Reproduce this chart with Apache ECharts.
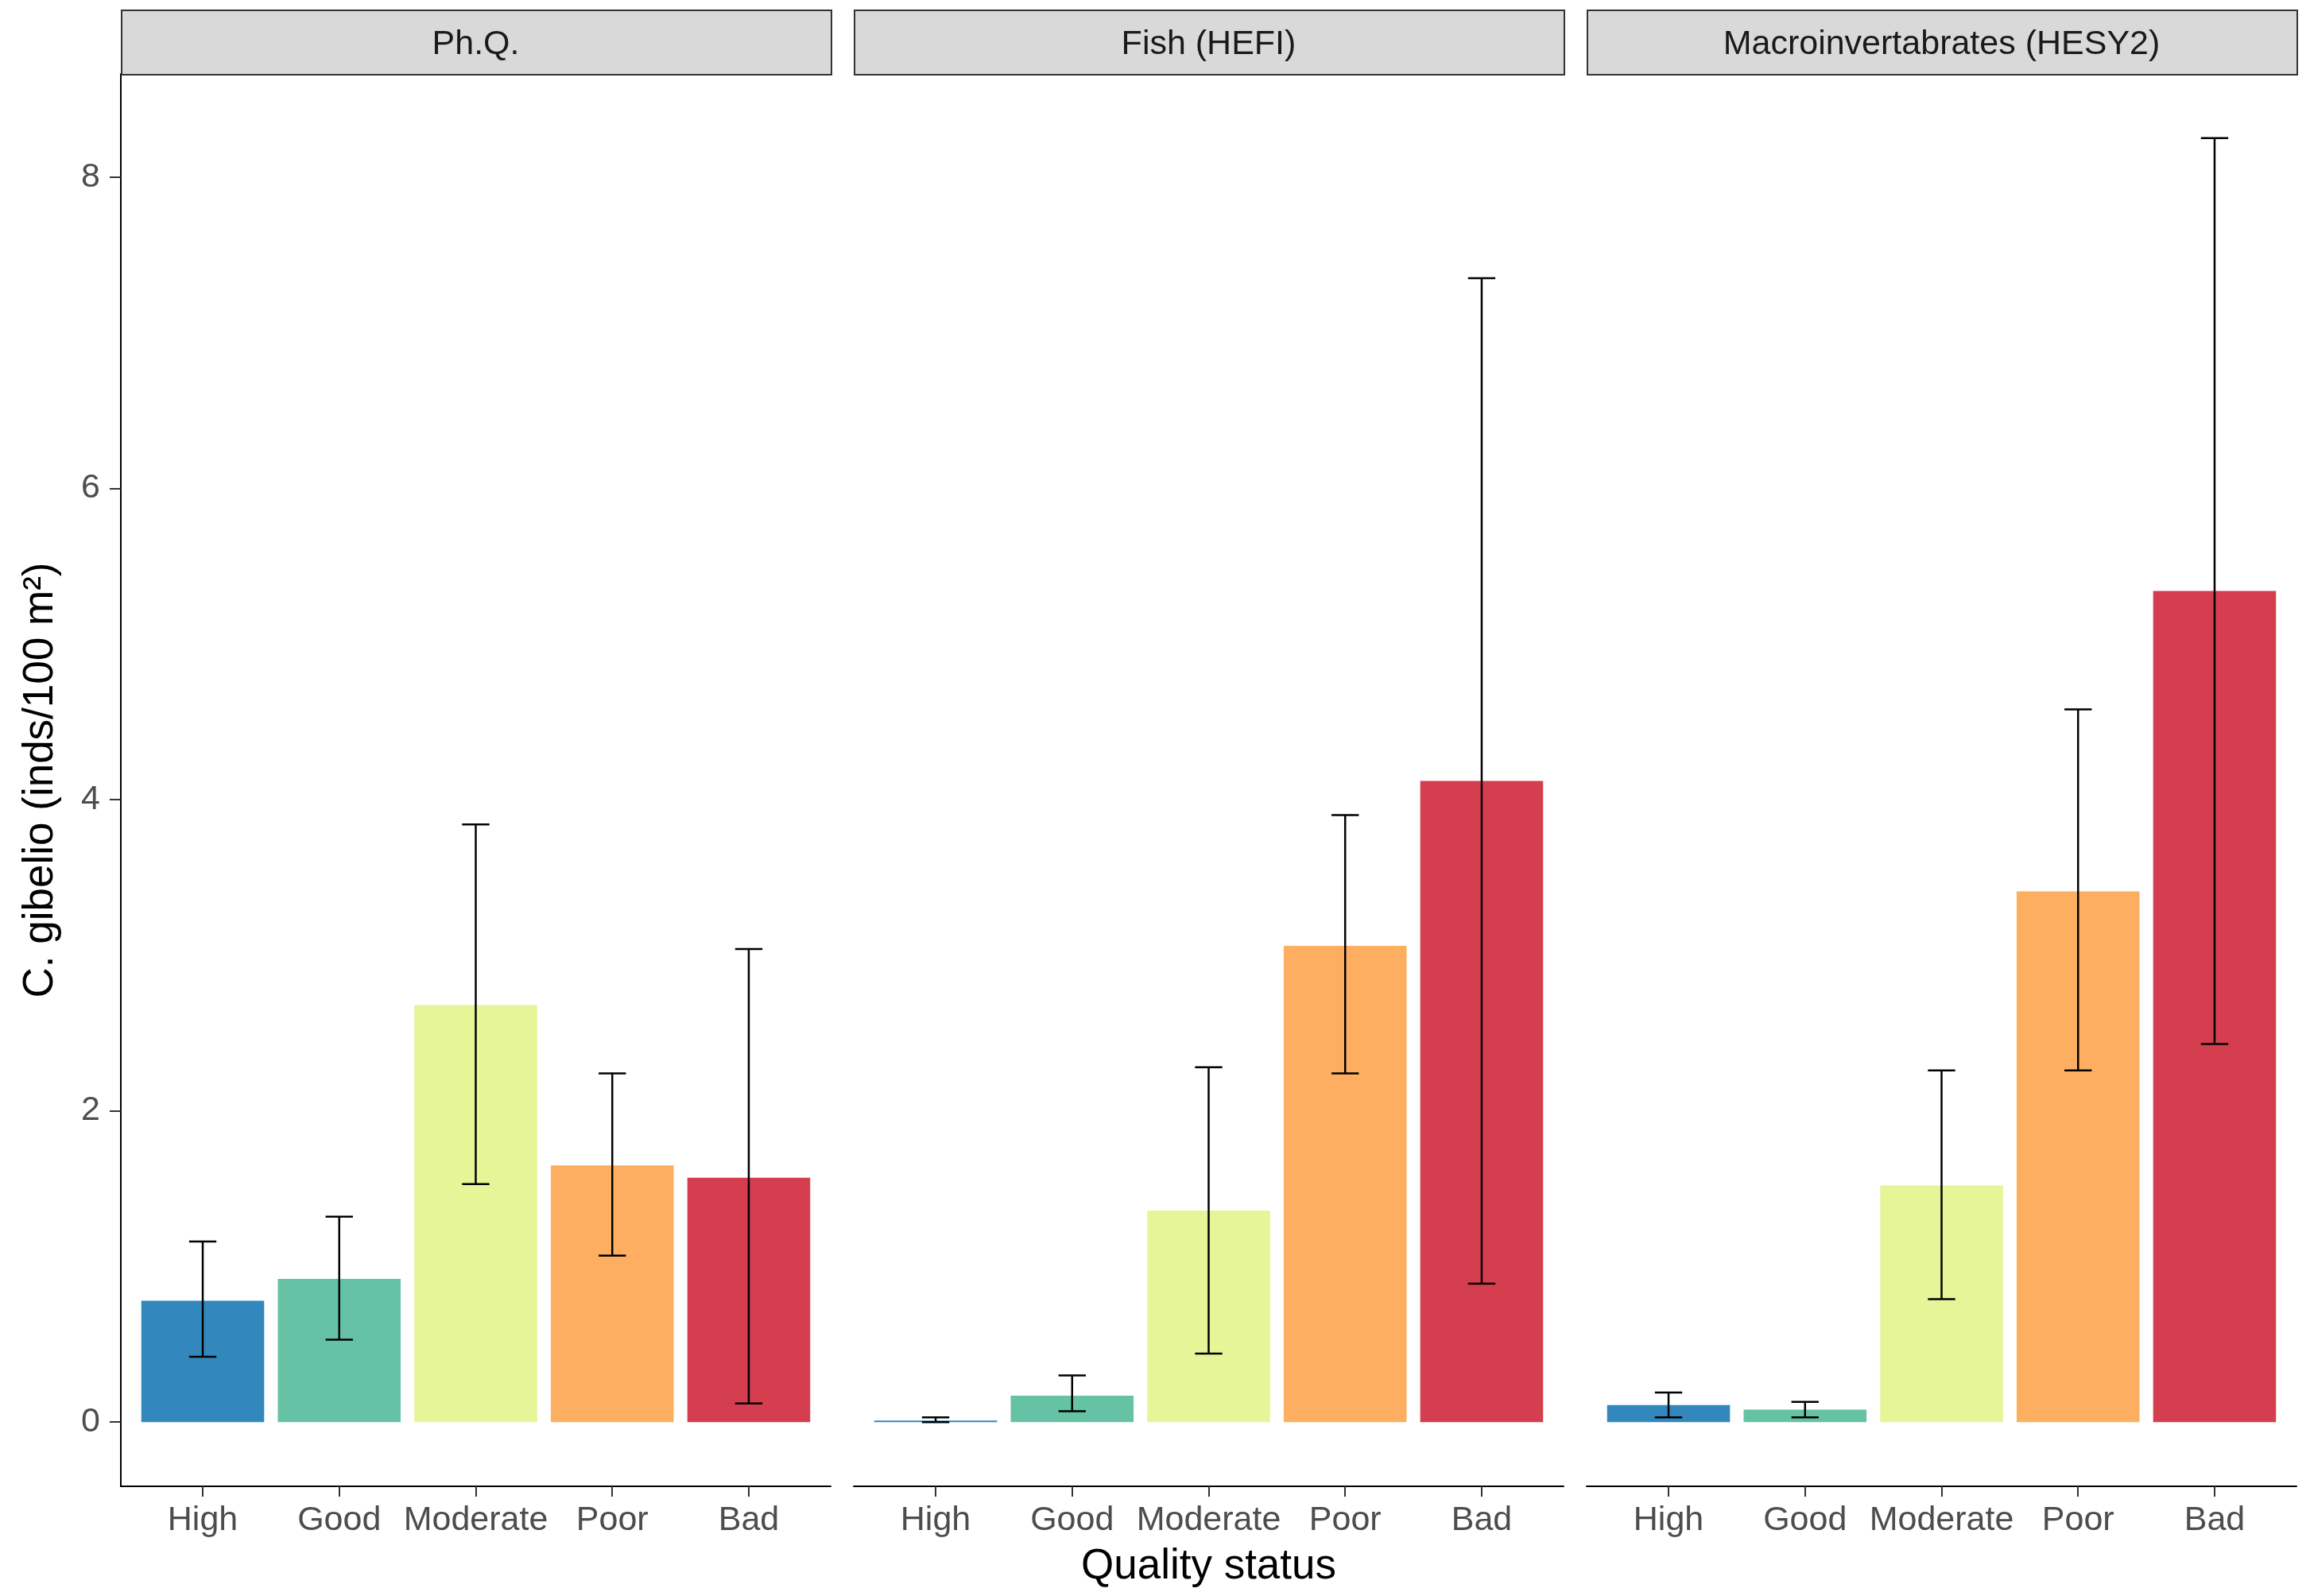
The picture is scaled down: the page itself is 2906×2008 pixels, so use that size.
<!DOCTYPE html>
<html><head><meta charset="utf-8">
<script src="https://cdn.jsdelivr.net/npm/echarts@6/dist/echarts.min.js"></script>
<style>html,body{margin:0;padding:0;background:#fff}#c{width:2906px;height:2008px}</style>
</head><body><div id="c"></div>
<script>
// ---- data ----
const categories = ['High', 'Good', 'Moderate', 'Poor', 'Bad'];
const panelTitles = ['Ph.Q.', 'Fish (HEFI)', 'Macroinvertabrates (HESY2)'];
const phqMean  = [0.78, 0.92, 2.68, 1.65, 1.57];
const phqLow   = [0.42, 0.53, 1.53, 1.07, 0.12];
const phqHigh  = [1.16, 1.32, 3.84, 2.24, 3.04];
const fishMean = [0.01, 0.17, 1.36, 3.06, 4.12];
const fishLow  = [0.00, 0.07, 0.44, 2.24, 0.89];
const fishHigh = [0.03, 0.30, 2.28, 3.90, 7.35];
const macroMean = [0.11, 0.08, 1.52, 3.41, 5.34];
const macroLow  = [0.03, 0.03, 0.79, 2.26, 2.43];
const macroHigh = [0.19, 0.13, 2.26, 4.58, 8.25];
const yTicks = [0, 2, 4, 6, 8];
const yTitle = 'C. gibelio (inds/100 m\u00B2)';
const xTitle = 'Quality status';

// ---- style / layout ----
const palette = ['#3288BD', '#66C2A5', '#E6F598', '#FDAE61', '#D53E4F'];
const FONT = '"Liberation Sans", Arial, Helvetica, sans-serif';
const W = 2906, H = 2008;
const PANEL_LEFT = 152, PANEL_W = 893, PANEL_GAP = 29, PANEL_TOP = 93, PANEL_BOTTOM = 1870;
const STRIP_TOP = 12;

const means = [phqMean, fishMean, macroMean];
const lows = [phqLow, fishLow, macroLow];
const highs = [phqHigh, fishHigh, macroHigh];

const allLow = [].concat(...lows, 0);
const allHigh = [].concat(...highs);
const dMin = Math.min(...allLow), dMax = Math.max(...allHigh);
const pad = 0.05 * (dMax - dMin);
const yMin = dMin - pad, yMax = dMax + pad;
const xPos = categories.map((c, j) => j + 1);

const grids = [], xAxes = [], yAxes = [], series = [], graphics = [];
panelTitles.forEach((t, i) => {
  const left = PANEL_LEFT + i * (PANEL_W + PANEL_GAP);
  grids.push({ left: left, width: PANEL_W, top: PANEL_TOP, height: PANEL_BOTTOM - PANEL_TOP, containLabel: false });
  xAxes.push({
    gridIndex: i, type: 'value', min: 0.4, max: 5.6,
    axisLine: { show: true, onZero: false, lineStyle: { color: '#000', width: 2 } },
    axisTick: { show: true, customValues: xPos, length: 13, lineStyle: { color: '#333', width: 2 } },
    axisLabel: { customValues: xPos, formatter: v => categories[Math.round(v) - 1], color: '#4D4D4D',
      fontSize: 43, fontFamily: FONT, margin: 22 },
    splitLine: { show: false },
    name: i === 1 ? xTitle : '', nameLocation: 'middle', nameGap: 75,
    nameTextStyle: { fontSize: 53, color: '#000', fontFamily: FONT }
  });
  yAxes.push({
    gridIndex: i, type: 'value', min: yMin, max: yMax,
    axisLine: { show: i === 0, onZero: false, lineStyle: { color: '#000', width: 2 } },
    axisTick: { show: i === 0, customValues: yTicks, length: 14, lineStyle: { color: '#333', width: 2 } },
    axisLabel: { show: i === 0, customValues: yTicks, color: '#4D4D4D', fontSize: 43, fontFamily: FONT, margin: 26 },
    splitLine: { show: false },
    name: i === 0 ? yTitle : '', nameLocation: 'middle', nameGap: 74, nameRotate: 90,
    nameTextStyle: { fontSize: 53, color: '#000', fontFamily: FONT }
  });
  series.push({
    type: 'bar', xAxisIndex: i, yAxisIndex: i, barWidth: '90%',
    data: means[i].map((v, j) => ({ value: [xPos[j], v], itemStyle: { color: palette[j] } })),
    z: 2
  });
  series.push({
    type: 'custom', xAxisIndex: i, yAxisIndex: i, z: 3,
    encode: { x: 0, y: [1, 2] },
    data: means[i].map((v, j) => [xPos[j], lows[i][j], highs[i][j]]),
    renderItem: function (params, api) {
      const x = api.value(0), lo = api.value(1), hi = api.value(2);
      const pt = api.coord([x, hi]), pb = api.coord([x, lo]);
      const l = api.coord([x - 0.1, hi])[0], r = api.coord([x + 0.1, hi])[0];
      const st = { stroke: '#000', lineWidth: 2.5, fill: null };
      return { type: 'group', children: [
        { type: 'line', shape: { x1: pt[0], y1: pt[1], x2: pb[0], y2: pb[1] }, style: st },
        { type: 'line', shape: { x1: l, y1: pt[1], x2: r, y2: pt[1] }, style: st },
        { type: 'line', shape: { x1: l, y1: pb[1], x2: r, y2: pb[1] }, style: st }
      ]};
    }
  });
  graphics.push({
    type: 'rect', left: left, top: STRIP_TOP, z: 10,
    shape: { x: 0, y: 0, width: PANEL_W, height: PANEL_TOP - STRIP_TOP },
    style: { fill: '#D9D9D9', stroke: '#333', lineWidth: 2 }
  });
  graphics.push({
    type: 'text', z: 11,
    x: left + PANEL_W / 2, y: (STRIP_TOP + PANEL_TOP) / 2 + 4,
    style: { text: t, fill: '#1A1A1A', fontSize: 43, fontFamily: FONT, align: 'center', verticalAlign: 'middle' }
  });
});

const chart = echarts.init(document.getElementById('c'), null, { renderer: 'canvas', width: W, height: H });
chart.setOption({
  backgroundColor: '#fff',
  animation: false,
  grid: grids, xAxis: xAxes, yAxis: yAxes, series: series, graphic: graphics
});
</script>
</body></html>
